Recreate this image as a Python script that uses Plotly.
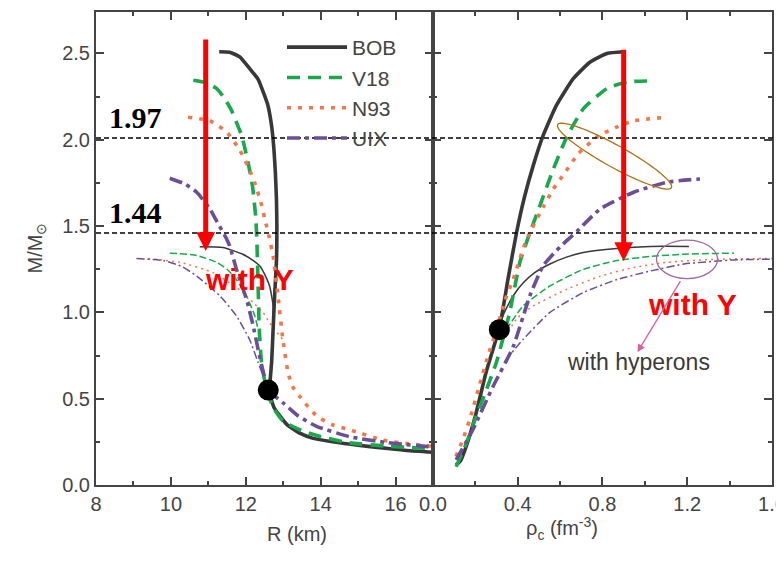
import numpy as np
import plotly.graph_objects as go

# ---------------- data ----------------
# Left panel: mass-radius (R in km, M in Msun)
bob_R = [11.29, 11.57, 11.84, 12.11, 12.33, 12.46, 12.59, 12.69, 12.75, 12.79, 12.82, 12.83, 12.82, 12.77, 12.72, 12.69, 12.65, 12.66, 12.75, 12.91, 13.1, 13.44, 13.8, 14.32, 15.0, 15.65, 16.3, 17.0]
bob_M = [2.51, 2.507, 2.48, 2.41, 2.35, 2.28, 2.20, 2.08, 1.95, 1.81, 1.65, 1.50, 1.30, 1.095, 0.85, 0.71, 0.60, 0.52, 0.45, 0.40, 0.35, 0.30, 0.27, 0.25, 0.23, 0.215, 0.20, 0.19]
bobY_R = [10.77, 11.39, 11.92, 12.2, 12.37, 12.55, 12.64, 12.73, 12.73, 12.71]
bobY_M = [1.38, 1.376, 1.337, 1.30, 1.27, 1.20, 1.15, 1.04, 0.95, 0.84]

v18_R = [10.6, 10.95, 11.2, 11.4, 11.62, 11.77, 11.89, 12.06, 12.18, 12.27, 12.30, 12.33, 12.36, 12.42, 12.5, 12.6, 12.77, 13.0, 13.44, 14.0, 14.77, 15.8, 17.0]
v18_M = [2.345, 2.33, 2.30, 2.25, 2.17, 2.09, 2.025, 1.87, 1.73, 1.54, 1.385, 1.15, 0.90, 0.71, 0.61, 0.52, 0.436, 0.37, 0.32, 0.28, 0.244, 0.225, 0.21]
v18Y_R = [9.97, 10.69, 11.22, 11.5, 11.75, 12.02, 12.24, 12.33]
v18Y_M = [1.343, 1.33, 1.29, 1.25, 1.19, 1.095, 0.98, 0.90]

n93_R = [10.46, 11.04, 11.49, 11.84, 12.05, 12.24, 12.4, 12.51, 12.63, 12.73, 12.86, 12.99, 13.13, 13.25, 13.44, 13.89, 14.3, 14.77, 15.66, 16.3, 17.0]
n93_M = [2.13, 2.11, 2.045, 1.94, 1.85, 1.75, 1.64, 1.54, 1.43, 1.327, 1.095, 0.843, 0.65, 0.57, 0.513, 0.40, 0.35, 0.32, 0.26, 0.24, 0.223]
n93Y_R = [9.39, 10.24, 11.13, 11.84, 12.2, 12.46, 12.7, 12.99]
n93Y_M = [1.312, 1.29, 1.23, 1.13, 1.056, 1.0, 0.92, 0.843]

uix_R = [9.97, 10.37, 10.69, 11.04, 11.22, 11.49, 11.57, 11.75, 12.02, 12.2, 12.33, 12.45, 12.55, 12.75, 13.0, 13.4, 13.89, 14.77, 15.8, 17.0]
uix_M = [1.777, 1.744, 1.696, 1.60, 1.53, 1.424, 1.385, 1.25, 1.075, 0.92, 0.785, 0.67, 0.59, 0.52, 0.475, 0.40, 0.34, 0.28, 0.245, 0.22]
uixY_R = [9.08, 9.8, 10.3, 10.69, 11.31, 11.75, 12.1, 12.33, 12.45]
uixY_M = [1.312, 1.30, 1.265, 1.21, 1.095, 0.98, 0.843, 0.71, 0.64]

# Right panel: mass vs central density (rho_c in fm^-3)
bob_rho = [0.109, 0.13, 0.15, 0.2, 0.25, 0.315, 0.355, 0.394, 0.43, 0.473, 0.52, 0.583, 0.663, 0.742, 0.821, 0.9]
bob_Mr = [0.116, 0.14, 0.2, 0.4, 0.65, 0.92, 1.2, 1.46, 1.66, 1.85, 2.025, 2.2, 2.355, 2.45, 2.5, 2.51]
bobY_rho = [0.315, 0.345, 0.378, 0.425, 0.48, 0.552, 0.63, 0.71, 0.868, 1.027, 1.208]
bobY_Mr = [0.94, 1.02, 1.095, 1.17, 1.23, 1.28, 1.32, 1.347, 1.37, 1.382, 1.382]

v18_rho = [0.109, 0.15, 0.204, 0.299, 0.362, 0.41, 0.457, 0.505, 0.568, 0.631, 0.71, 0.821, 0.916, 1.01]
v18_Mr = [0.106, 0.22, 0.397, 0.71, 1.0, 1.29, 1.46, 1.62, 1.83, 2.015, 2.18, 2.297, 2.335, 2.34]
v18Y_rho = [0.346, 0.425, 0.552, 0.71, 0.868, 1.027, 1.185, 1.42]
v18Y_Mr = [0.90, 1.037, 1.153, 1.25, 1.30, 1.324, 1.337, 1.343]

n93_rho = [0.108, 0.14, 0.173, 0.22, 0.26, 0.30, 0.34, 0.378, 0.441, 0.52, 0.568, 0.623, 0.686, 0.773, 0.86, 0.947, 1.105]
n93_Mr = [0.165, 0.26, 0.378, 0.58, 0.75, 0.90, 1.07, 1.19, 1.42, 1.61, 1.715, 1.81, 1.92, 2.015, 2.07, 2.11, 2.13]
n93Y_rho = [0.34, 0.40, 0.473, 0.631, 0.79, 0.947, 1.105, 1.342, 1.6]
n93Y_Mr = [0.86, 0.97, 1.037, 1.134, 1.21, 1.26, 1.29, 1.308, 1.312]

uix_rho = [0.109, 0.188, 0.283, 0.378, 0.457, 0.52, 0.6, 0.68, 0.79, 0.947, 1.105, 1.26]
uix_Mr = [0.145, 0.32, 0.57, 0.80, 1.095, 1.27, 1.38, 1.47, 1.60, 1.696, 1.754, 1.773]
uixY_rho = [0.34, 0.425, 0.552, 0.71, 0.868, 1.027, 1.185, 1.42, 1.6]
uixY_Mr = [0.72, 0.843, 1.0, 1.115, 1.19, 1.24, 1.28, 1.304, 1.308]

# Marked points
dot_left = (12.6, 0.55)
dot_right = (0.313, 0.90)

# Reference mass levels (drawn positions) and their labels
level_y = [2.01, 1.46]
level_labels = ["1.97", "1.44"]

names = ["BOB", "V18", "N93", "UIX"]

# ---------------- style ----------------
OFF = 8                      # page body margin of the browser
W, H = 784 - OFF, 561 - OFF
XL0, XL1, XR1 = 96 - OFF, 433 - OFF, 772 - OFF
YB, YT = 485 - OFF, 12 - OFF
dom_left = [XL0 / W, XL1 / W]
dom_right = [XL1 / W, XR1 / W]
dom_y = [1 - YB / H, 1 - YT / H]
XR_L = [8, 17]
XR_R = [0, 1.6001]
YR = [0, 2.74]

def px(xp):   # reference-pixel x -> paper
    return (xp - OFF) / W

def py(yp):   # reference-pixel y -> paper
    return 1 - (yp - OFF) / H

colors = {"BOB": "#383838", "V18": "#19a84b", "N93": "#f2784b", "UIX": "#6b4f96"}
thick_dash = {"BOB": "solid", "V18": "13px,8px", "N93": "4px,7px", "UIX": "13px,5px,4px,5px"}
thin_dash = {"BOB": "solid", "V18": "7px,3px", "N93": "2px,4px", "UIX": "8px,3px,2px,3px"}

fig = go.Figure()

def add(x, y, xa, name, thick, legend):
    fig.add_trace(go.Scatter(
        x=x, y=y, xaxis=xa, yaxis="y" if xa == "x" else "y2", mode="lines",
        name=name, legendgroup=name, showlegend=legend, hoverinfo="skip",
        line=dict(color=colors[name], width=3.6 if thick else 1.5,
                  dash=thick_dash[name] if thick else thin_dash[name],
                  shape="spline", smoothing=0.5)))

left_thick = {"BOB": (bob_R, bob_M), "V18": (v18_R, v18_M), "N93": (n93_R, n93_M), "UIX": (uix_R, uix_M)}
left_thin = {"BOB": (bobY_R, bobY_M), "V18": (v18Y_R, v18Y_M), "N93": (n93Y_R, n93Y_M), "UIX": (uixY_R, uixY_M)}
right_thick = {"BOB": (bob_rho, bob_Mr), "V18": (v18_rho, v18_Mr), "N93": (n93_rho, n93_Mr), "UIX": (uix_rho, uix_Mr)}
right_thin = {"BOB": (bobY_rho, bobY_Mr), "V18": (v18Y_rho, v18Y_Mr), "N93": (n93Y_rho, n93Y_Mr), "UIX": (uixY_rho, uixY_Mr)}

for n in names:
    add(*left_thin[n], "x", n, False, False)
    add(*right_thin[n], "x2", n, False, False)
for n in names:
    add(*left_thick[n], "x", n, True, True)
    add(*right_thick[n], "x2", n, True, False)

fig.add_trace(go.Scatter(x=[dot_left[0]], y=[dot_left[1]], xaxis="x", yaxis="y", mode="markers",
                         marker=dict(color="black", size=21), showlegend=False, hoverinfo="skip"))
fig.add_trace(go.Scatter(x=[dot_right[0]], y=[dot_right[1]], xaxis="x2", yaxis="y2", mode="markers",
                         marker=dict(color="black", size=21), showlegend=False, hoverinfo="skip"))

# horizontal reference lines
shapes = []
for yv in level_y:
    shapes.append(dict(type="line", xref="paper", yref="y", x0=XL0 / W, x1=1.0, y0=yv, y1=yv,
                       line=dict(color="black", width=1.5, dash="5px,3px")))

# rotated ellipse (brown) in right panel, built from centre/axes in pixels
px_per_x2 = (XR1 - XL1) / (XR_R[1] - XR_R[0])
px_per_y = (YB - YT) / (YR[1] - YR[0])
cx, cy, a, b, ang = 0.857, 1.905, 65, 11, np.deg2rad(-29)
t = np.linspace(0, 2 * np.pi, 73)
ex = a * np.cos(t) * np.cos(ang) - b * np.sin(t) * np.sin(ang)
ey = a * np.cos(t) * np.sin(ang) + b * np.sin(t) * np.cos(ang)
pts = [(cx + dx / px_per_x2, cy + dy / px_per_y) for dx, dy in zip(ex, ey)]
path = "M " + " L ".join(f"{u:.4f},{v:.4f}" for u, v in pts) + " Z"
shapes.append(dict(type="path", xref="x2", yref="y2", path=path, line=dict(color="#a8741a", width=1.3)))
# purple ellipse
shapes.append(dict(type="circle", xref="x2", yref="y2", x0=1.055, x1=1.343, y0=1.196, y1=1.419,
                   line=dict(color="#9b6b9e", width=1.3)))

annotations = []
# level labels
for yv, lab in zip(level_y, level_labels):
    annotations.append(dict(text=f"<b>{lab}</b>", xref="x", yref="y", x=8.3, y=yv + 0.012,
                            xanchor="left", yanchor="bottom", showarrow=False,
                            font=dict(family="Liberation Serif, Times New Roman", size=30, color="black")))
# red arrows
annotations.append(dict(xref="x", yref="y", axref="x", ayref="y", x=10.93, y=1.355, ax=10.93, ay=2.59,
                        text="", showarrow=True, arrowhead=2, arrowsize=0.75, arrowwidth=5, arrowcolor="#ff0000"))
annotations.append(dict(xref="x2", yref="y2", axref="x2", ayref="y2", x=0.9, y=1.297, ax=0.9, ay=2.53,
                        text="", showarrow=True, arrowhead=2, arrowsize=0.75, arrowwidth=5, arrowcolor="#ff0000"))
annotations.append(dict(text="<b>with Y</b>", xref="x", yref="y", x=12.1, y=1.19, showarrow=False,
                        font=dict(family="Liberation Sans, Arial", size=30, color="#ff0000")))
annotations.append(dict(text="<b>with Y</b>", xref="x2", yref="y2", x=1.226, y=1.045, showarrow=False,
                        font=dict(family="Liberation Sans, Arial", size=30, color="#ff0000")))
# pink pointer
annotations.append(dict(xref="x2", yref="y2", axref="x2", ayref="y2", x=0.965, y=0.77, ax=1.172, ay=1.19,
                        text="", showarrow=True, arrowhead=2, arrowsize=1.2, arrowwidth=1.3, arrowcolor="#d9609a"))
annotations.append(dict(text="with hyperons", xref="x2", yref="y2", x=0.97, y=0.71, showarrow=False,
                        font=dict(family="Liberation Sans, Arial", size=23, color="#3a3a3a")))
# axis titles
annotations.append(dict(text="R (km)", xref="paper", yref="paper", x=px(265), y=py(547),
                        showarrow=False, font=dict(family="Liberation Sans, Arial", size=20, color="#444")))
annotations.append(dict(text="ρ<sub>c</sub> (fm<sup>-3</sup>)", xref="paper", yref="paper",
                        x=px(600), y=py(545),
                        showarrow=False, font=dict(family="Liberation Sans, Arial", size=20, color="#444")))
annotations.append(dict(text="M/M<sub>⊙</sub>", xref="paper", yref="paper", x=px(22), y=py(248),
                        textangle=-90, showarrow=False,
                        font=dict(family="Liberation Sans, Arial", size=20, color="#444")))

tickfont = dict(family="Liberation Sans, Arial", size=20, color="#444")
axcommon = dict(showgrid=False, zeroline=False, showline=True, linecolor="#444", linewidth=2,
                mirror="allticks", ticks="inside", ticklen=8, tickwidth=2, tickcolor="#444",
                tickfont=tickfont, automargin=False, ticklabeloverflow="allow")

fig.update_layout(
    width=W, height=H, margin=dict(l=0, r=0, t=0, b=0, autoexpand=False),
    paper_bgcolor="white", plot_bgcolor="white",
    shapes=shapes, annotations=annotations,
    showlegend=True,
    legend=dict(x=px(282), y=py(27), xanchor="left", yanchor="top", bgcolor="rgba(0,0,0,0)",
                font=dict(family="Liberation Sans, Arial", size=21, color="#444"),
                tracegroupgap=0, itemwidth=60),
    xaxis=dict(domain=dom_left, range=XR_L, anchor="y", tick0=8, dtick=2,
               minor=dict(dtick=1, ticks="inside", ticklen=4, tickwidth=2, tickcolor="#444"),
               **axcommon),
    xaxis2=dict(domain=dom_right, range=XR_R, anchor="y2", tick0=0, dtick=0.4, tickformat=".1f",
                minor=dict(dtick=0.2, ticks="inside", ticklen=4, tickwidth=2, tickcolor="#444"),
                **axcommon),
    yaxis=dict(domain=dom_y, range=YR, anchor="x", tick0=0, dtick=0.5, tickformat=".1f",
               minor=dict(dtick=0.25, ticks="inside", ticklen=4, tickwidth=2, tickcolor="#444"),
               **axcommon),
    yaxis2=dict(domain=dom_y, range=YR, anchor="x2", matches="y", tick0=0, dtick=0.5, showticklabels=False,
                minor=dict(dtick=0.25, ticks="inside", ticklen=4, tickwidth=2, tickcolor="#444"),
                **axcommon),
)

fig.write_html("out.html")
